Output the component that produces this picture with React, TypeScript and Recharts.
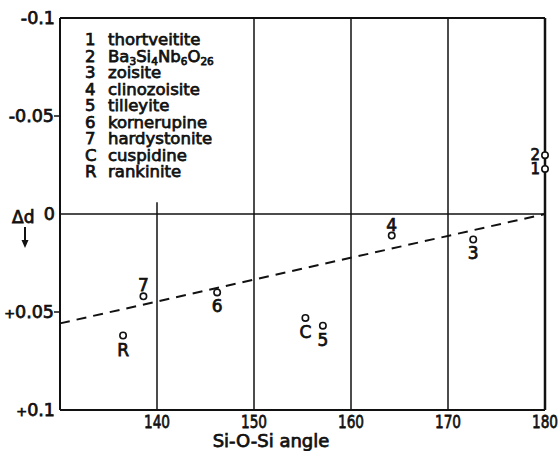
import React from 'react';
import {
  ComposedChart,
  XAxis,
  YAxis,
  Scatter,
  Line,
  ReferenceLine,
  Customized,
} from 'recharts';

// ---- data ----
const angleTicks = [140, 150, 160, 170, 180];
const deltaTicks = [-0.1, -0.05, 0, 0.05, 0.1];
const deltaTickLabels = ['-0.1', '-0.05', '0', '+0.05', '+0.1'];

const pointLabels = ['1', '2', '3', '4', '5', '6', '7', 'C', 'R'];
const pointAngles = [180, 180, 172.6, 164.2, 157.1, 146.2, 138.6, 155.3, 136.5];
const pointDeltas = [-0.023, -0.030, 0.013, 0.011, 0.057, 0.040, 0.042, 0.053, 0.062];

const trendAngles = [130, 180];
const trendDeltas = [0.0558, 0];

const legendKeys = ['1', '2', '3', '4', '5', '6', '7', 'C', 'R'];
const legendNames = [
  'thortveitite',
  'Ba3Si4Nb6O26',
  'zoisite',
  'clinozoisite',
  'tilleyite',
  'kornerupine',
  'hardystonite',
  'cuspidine',
  'rankinite',
];

const fullGridAngles = [150, 160, 170];
const partialGridAngle = 140;
const partialGridFrom = -0.006;

const xTitle = 'Si-O-Si angle';
const yTitle = 'Δd';

// tables built from the arrays
const points = pointLabels.map((label, i) => ({ x: pointAngles[i], y: pointDeltas[i], label }));
const trend = trendAngles.map((x, i) => ({ x, y: trendDeltas[i] }));

if (typeof document !== 'undefined') {
  document.documentElement.style.overflow = 'hidden';
  document.body.style.overflow = 'hidden';
  document.body.style.margin = '0';
}

const FONT = "'DejaVu Sans', sans-serif";
const INK = '#111';

const labelPlacement: Record<string, string> = {
  '1': 'left',
  '2': 'left',
  '3': 'below',
  '4': 'above',
  '5': 'below',
  '6': 'below',
  '7': 'above',
  C: 'below',
  R: 'below',
};

const textProps = {
  fontFamily: FONT,
  fill: INK,
  stroke: INK,
  strokeWidth: 0.75,
};

function PointShape(props: any) {
  const { cx, cy, payload } = props;
  if (cx == null || cy == null) return null;
  const pos = labelPlacement[payload.label];
  let tx = cx;
  let ty = cy;
  let anchor: any = 'middle';
  let fs = 17;
  if (pos === 'left') {
    tx = cx - 5;
    ty = cy + 5;
    anchor = 'end';
    fs = 15;
  } else if (pos === 'above') {
    tx = cx;
    ty = cy - 5;
  } else {
    tx = cx;
    ty = cy + 20;
  }
  return (
    <g>
      <circle cx={cx} cy={cy} r={3.2} fill="#fff" stroke={INK} strokeWidth={1.6} />
      <text x={tx} y={ty} textAnchor={anchor} fontSize={fs} {...textProps}>
        {payload.label}
      </text>
    </g>
  );
}

function renderFormula(s: string) {
  const parts = s.split(/(\d+)/).filter((p) => p.length > 0);
  let sub = false;
  return parts.map((p, i) => {
    const isNum = /^\d+$/.test(p);
    const dy = isNum && !sub ? 3 : !isNum && sub ? -3 : 0;
    sub = isNum;
    return (
      <tspan key={i} dy={dy} fontSize={isNum ? 10.5 : undefined}>
        {p}
      </tspan>
    );
  });
}

function Decorations() {
  const lx = 85;
  const nx = 108;
  const y0 = 45;
  const step = 16.5;
  return (
    <g>
      {legendKeys.map((k, i) => (
        <g key={k}>
          <text x={lx} y={y0 + i * step} fontSize={16.5} {...textProps}>
            {k}
          </text>
          <text x={nx} y={y0 + i * step} fontSize={16.5} {...textProps}>
            {renderFormula(legendNames[i])}
          </text>
        </g>
      ))}
      {/* y title with arrow */}
      <text x={12} y={223} fontSize={17} {...textProps}>
        {yTitle}
      </text>
      <line x1={25} x2={25} y1={227} y2={242} stroke={INK} strokeWidth={2} />
      <path d="M21.5,240 L28.5,240 L25,248 Z" fill={INK} />
      {/* x title */}
      <text x={271} y={447} textAnchor="middle" fontSize={18} {...textProps}>
        {xTitle}
      </text>
    </g>
  );
}

function YTick(props: any) {
  const { x, y, payload } = props;
  const idx = deltaTicks.indexOf(payload.value);
  const label = idx >= 0 ? deltaTickLabels[idx] : String(payload.value);
  const hasMark = Math.abs(payload.value) === 0.05;
  const sign = label.charAt(0) === '+' ? '+' : '';
  const rest = sign ? label.slice(1) : label;
  return (
    <g>
      {hasMark && <line x1={x - 6} x2={x} y1={y} y2={y} stroke={INK} strokeWidth={1.5} />}
      <text
        x={hasMark ? x - 6 : x - 5}
        y={y}
        dy="0.36em"
        textAnchor="end"
        fontSize={17.5}
        {...textProps}
      >
        {sign && <tspan fontSize={13}>{sign}</tspan>}
        <tspan>{rest}</tspan>
      </text>
    </g>
  );
}

function XTick(props: any) {
  const { x, y, payload } = props;
  return (
    <g transform={`translate(${x},${y}) scale(0.76,1)`}>
      <text x={0} y={0} dy="0.72em" textAnchor="middle" fontSize={18} {...textProps}>
        {payload.value}
      </text>
    </g>
  );
}

export default function App() {
  return (
    <div style={{ width: 558, height: 451, overflow: 'hidden' }}>
      <ComposedChart
        width={558}
        height={451}
        margin={{ top: 18, right: 13, bottom: 0, left: 0 }}
      >
        <XAxis
          type="number"
          dataKey="x"
          domain={[130, 180]}
          ticks={angleTicks}
          height={41}
          tickLine={false}
          tickSize={0}
          tickMargin={5}
          tick={<XTick />}
          axisLine={{ stroke: INK, strokeWidth: 2 }}
        />
        <YAxis
          type="number"
          dataKey="y"
          domain={[-0.1, 0.1]}
          ticks={deltaTicks}
          reversed
          width={60}
          tickLine={false}
          tickSize={0}
          tickMargin={0}
          tick={<YTick />}
          axisLine={{ stroke: INK, strokeWidth: 2 }}
        />
        {fullGridAngles.map((a) => (
          <ReferenceLine key={a} x={a} stroke={INK} strokeWidth={1.5} />
        ))}
        <ReferenceLine
          segment={[
            { x: partialGridAngle, y: partialGridFrom },
            { x: partialGridAngle, y: 0.1 },
          ]}
          stroke={INK}
          strokeWidth={1.5}
        />
        <ReferenceLine y={0} stroke={INK} strokeWidth={1.5} />
        <ReferenceLine y={-0.1} stroke={INK} strokeWidth={2} />
        <ReferenceLine x={180} stroke={INK} strokeWidth={2.5} />
        <Line
          data={trend}
          dataKey="y"
          type="linear"
          stroke={INK}
          strokeWidth={2}
          strokeDasharray="10 7"
          dot={false}
          activeDot={false}
          isAnimationActive={false}
        />
        <Scatter data={points} dataKey="y" shape={<PointShape />} isAnimationActive={false} />
        <Customized component={<Decorations />} />
      </ComposedChart>
    </div>
  );
}
